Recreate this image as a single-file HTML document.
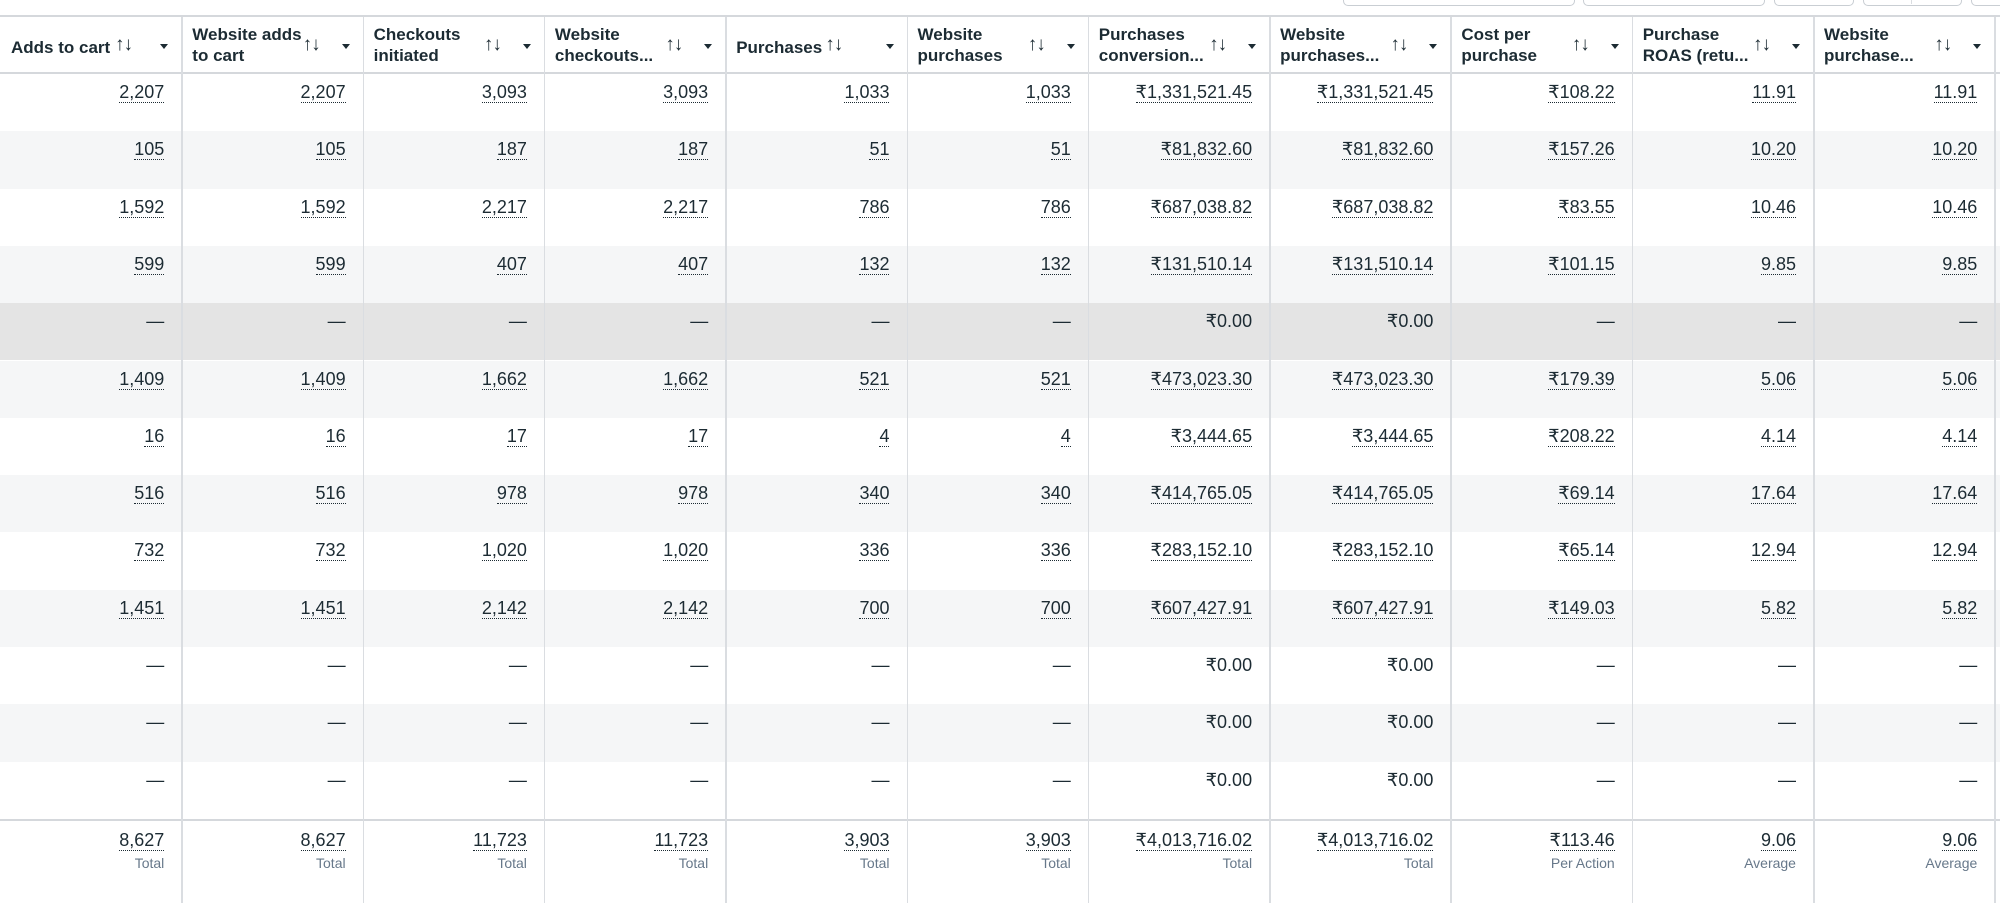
<!DOCTYPE html>
<html><head><meta charset="utf-8">
<style>
body{margin:0;width:2000px;height:901px;overflow:hidden;background:#fff;font-family:"Liberation Sans",sans-serif;color:#1c2b33;position:relative}
.a{position:absolute;box-sizing:border-box}
.btn{position:absolute;top:-10px;height:14px;border:1.5px solid #c9ced3;border-radius:5px;background:#fff}
.hd{font-weight:bold;font-size:17px;line-height:21px;color:#1c2b33}
.v{font-size:18px;text-align:right;white-space:nowrap}
.u{border-bottom:1.5px dotted #1c2b33;padding-bottom:0}
.lbl{font-size:14px;color:#67788a;text-align:right}
.vl{position:absolute;width:1px;background:#dadde1}
</style></head><body>
<div class="btn" style="left:1343px;width:230px"></div>
<div class="btn" style="left:1583px;width:180px"></div>
<div class="btn" style="left:1774px;width:78px"></div>
<div class="btn" style="left:1863px;width:97px"></div>
<div class="vl" style="left:1911px;top:0;height:4px"></div>
<div class="btn" style="left:1971px;width:60px"></div>
<div id="tbl"></div>
<script>
const headers=[["Adds to cart"],["Website adds","to cart"],["Checkouts","initiated"],["Website","checkouts..."],["Purchases"],["Website","purchases"],["Purchases","conversion..."],["Website","purchases..."],["Cost per","purchase"],["Purchase","ROAS (retu..."],["Website","purchase..."]];
const addsToCart=["2,207","105","1,592","599","—","1,409","16","516","732","1,451","—","—","—"];
const checkouts=["3,093","187","2,217","407","—","1,662","17","978","1,020","2,142","—","—","—"];
const purchases=["1,033","51","786","132","—","521","4","340","336","700","—","—","—"];
const convValue=["₹1,331,521.45","₹81,832.60","₹687,038.82","₹131,510.14","₹0.00","₹473,023.30","₹3,444.65","₹414,765.05","₹283,152.10","₹607,427.91","₹0.00","₹0.00","₹0.00"];
const costPer=["₹108.22","₹157.26","₹83.55","₹101.15","—","₹179.39","₹208.22","₹69.14","₹65.14","₹149.03","—","—","—"];
const roas=["11.91","10.20","10.46","9.85","—","5.06","4.14","17.64","12.94","5.82","—","—","—"];
const columns=[addsToCart,addsToCart,checkouts,checkouts,purchases,purchases,convValue,convValue,costPer,roas,roas];
const totals=["8,627","8,627","11,723","11,723","3,903","3,903","₹4,013,716.02","₹4,013,716.02","₹113.46","9.06","9.06"];
const totalLabels=["Total","Total","Total","Total","Total","Total","Total","Total","Per Action","Average","Average"];
const T=document.getElementById('tbl');
const colW=181.3, TOP=15, hdH=59, rowH=57.3, nRows=13;
function mk(cls,st,html){const d=document.createElement('div');d.className='a '+cls;d.style.cssText=st;if(html!==undefined)d.innerHTML=html;T.appendChild(d);return d;}
let e=mk('','left:0;top:'+TOP+'px;width:2000px;height:2px;background:#d5d8dc');


const tbY=TOP+hdH+nRows*rowH;
for(let r=0;r<nRows;r++){
  const y=TOP+hdH+r*rowH;
  const bg=r===4?'#e4e4e4':(r%2?'#f5f6f7':'#fff');
  const row=mk('', 'left:0;top:'+y+'px;width:2000px;height:'+rowH+'px;background:'+bg);
  
  
}
e=mk('','left:0;top:'+(TOP+hdH-2)+'px;width:2000px;height:2px;background:#d5d8dc');


e=mk('','left:0;top:'+tbY+'px;width:2000px;height:2px;background:#d5d8dc');


for(let c=0;c<11;c++){
  const x=c*colW, right=x+colW;
  const vl=mk('','left:'+(right)+'px;top:'+(TOP+2)+'px;width:1.5px;height:'+(901-TOP)+'px;background:#dadde1');
  
  
  const h=headers[c];
  const hy=h.length===1?TOP+22:TOP+9;
  const hd=mk('hd','left:'+(x+11)+'px;top:'+hy+'px;width:'+(colW-60)+'px',h.join('<br>'));
  
  
  const sortX=c===0?x+115:(c===4?x+100:right-60);
  const so=mk('hd','left:'+sortX+'px;top:'+(TOP+19)+'px;font-size:19px;font-weight:normal;letter-spacing:-1px;color:#1c2b33','↑↓');
  
  
  const dd=mk('','left:'+(right-21)+'px;top:'+(TOP+29)+'px;width:0;height:0;border-left:4.5px solid transparent;border-right:4.5px solid transparent;border-top:5px solid #1c2b33');
  
  
  for(let r=0;r<nRows;r++){
    const val=columns[c][r];
    const y=TOP+hdH+r*rowH+8;
    const plain=(val==='—'||val==='₹0.00');
    const cell=mk('v','left:'+x+'px;width:'+(colW-17)+'px;top:'+y+'px',plain?val:'<span class="u">'+val+'</span>');
    
    
  }
  const tv=mk('v','left:'+x+'px;width:'+(colW-17)+'px;top:'+(tbY+11)+'px','<span class="u">'+totals[c]+'</span>');
  
  
  const tl=mk('lbl','left:'+x+'px;width:'+(colW-17)+'px;top:'+(tbY+36)+'px',totalLabels[c]);
  
  
}
</script>
</body></html>
